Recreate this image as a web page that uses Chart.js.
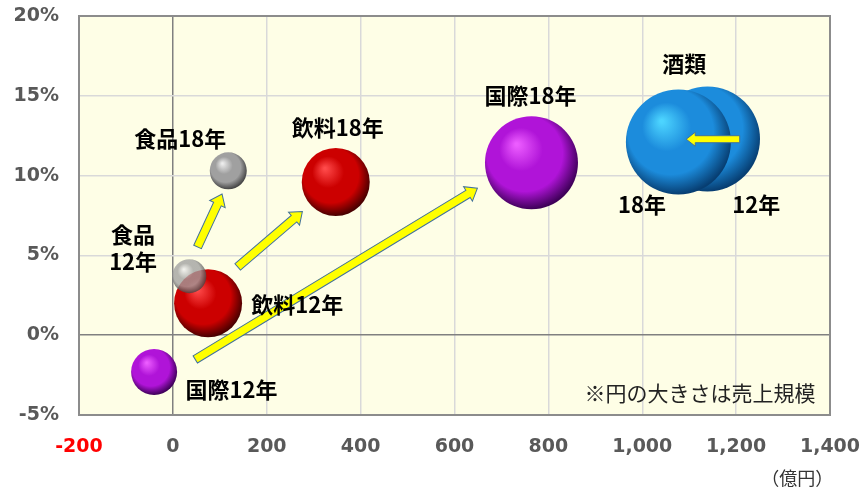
<!DOCTYPE html>
<html><head><meta charset="utf-8">
<script src="https://cdn.jsdelivr.net/npm/chart.js@4.4.1/dist/chart.umd.min.js"></script>
<style>html,body{margin:0;padding:0;background:#fff;}#wrap{width:863px;height:488px;}</style>
</head><body><div id="wrap"><canvas id="c" width="863" height="488"></canvas></div>
<script>
// ---- data ----
const categories = ['飲料12年','飲料18年','食品12年','食品18年','国際12年','国際18年','酒類12年','酒類18年'];
const growthX = [75, 347, 35, 118, -40, 764, 1139, 1077];      // 億円
const growthY = [2.0, 9.6, 3.7, 10.3, -2.3, 10.8, 12.3, 12.1];  // %
const bubbleSize = [34, 34, 17, 18.5, 23, 46.5, 52.5, 52.5];    // 売上規模
const xTicks = [-200, 0, 200, 400, 600, 800, 1000, 1200, 1400];
const yTicks = [-5, 0, 5, 10, 15, 20];
// arrows: [fromX, fromY, toX, toY]
const arrowsFrom = [[52.6, 5.53], [138.2, 4.28], [47.7, -1.52], [1207.7, 12.28]];
const arrowsTo   = [[104.8, 8.84], [275.9, 7.75], [648.8, 9.21], [1093.7, 12.28]];
const labelTexts = ['食品18年','食品','12年','飲料18年','飲料12年','国際12年','国際18年','酒類','18年','12年'];
const labelX = [15.6, -84.7, -84.7, 351.4, 264.8, 124.7, 762, 1089.4, 999.6, 1243];
const labelY = [12.29, 6.29, 4.61, 12.98, 1.92, -3.44, 15.04, 17.04, 8.17, 8.17];

// ---- styles ----
const palette = {
  '飲料': ['#FF4A4A', '#CC0000', '#480000'],
  '食品': ['#EDEDED', '#A0A0A0', '#444444'],
  '国際': ['#EC5CFF', '#B014D8', '#3E0058'],
  '酒類': ['#4CD4FF', '#1C8CDC', '#073E72']
};
const alphaFor = (name) => name === '食品12年' ? 0.78 : 1;

function sphere(ctx) {
  const chart = ctx.chart;
  const i = ctx.dataIndex;
  if (i === undefined || !chart.chartArea) return '#888';
  const name = categories[i];
  const cols = palette[name.slice(0, 2)];
  const cx = chart.scales.x.getPixelForValue(growthX[i]);
  const cy = chart.scales.y.getPixelForValue(growthY[i]);
  const r = bubbleSize[i];
  const g = chart.ctx.createRadialGradient(cx - r * 0.32, cy - r * 0.4, r * 0.03, cx - r * 0.08, cy - r * 0.12, r * 1.12);
  const a = alphaFor(name);
  const hex = (h) => { const n = parseInt(h.slice(1), 16); return `rgba(${n>>16},${(n>>8)&255},${n&255},${a})`; };
  g.addColorStop(0, hex(cols[0]));
  g.addColorStop(0.4, hex(cols[1]));
  g.addColorStop(0.72, hex(cols[1]));
  g.addColorStop(1, hex(cols[2]));
  return g;
}

const plotDeco = {
  id: 'plotDeco',
  beforeDraw(chart) {
    const {ctx, chartArea: a} = chart;
    ctx.save();
    ctx.fillStyle = '#FEFEE6';
    ctx.fillRect(a.left, a.top, a.right - a.left, a.bottom - a.top);
    ctx.restore();
  },
  afterDatasetsDraw(chart) {
    const {ctx, chartArea: a, scales: {x, y}} = chart;
    ctx.save();
    // arrows
    for (let k = 0; k < arrowsFrom.length; k++) {
      const x0 = x.getPixelForValue(arrowsFrom[k][0]), y0 = y.getPixelForValue(arrowsFrom[k][1]);
      const x1 = x.getPixelForValue(arrowsTo[k][0]), y1 = y.getPixelForValue(arrowsTo[k][1]);
      const len = Math.hypot(x1 - x0, y1 - y0);
      const small = k === 3;
      const sw = small ? 3.5 : 4.2, hw = small ? 7 : 8.5, hl = small ? 9 : 11;
      ctx.save();
      ctx.translate(x0, y0);
      ctx.rotate(Math.atan2(y1 - y0, x1 - x0));
      ctx.beginPath();
      ctx.moveTo(0, -sw);
      ctx.lineTo(len - hl, -sw);
      ctx.lineTo(len - hl, -hw);
      ctx.lineTo(len, 0);
      ctx.lineTo(len - hl, hw);
      ctx.lineTo(len - hl, sw);
      ctx.lineTo(0, sw);
      ctx.closePath();
      ctx.fillStyle = '#FFFF00';
      ctx.fill();
      ctx.lineWidth = 1;
      ctx.strokeStyle = '#41719C';
      ctx.stroke();
      ctx.restore();
    }
    // labels
    ctx.fillStyle = '#000';
    ctx.font = 'bold 22px "Noto Sans CJK JP", sans-serif';
    ctx.textAlign = 'center';
    ctx.textBaseline = 'middle';
    for (let k = 0; k < labelTexts.length; k++) {
      ctx.fillText(labelTexts[k], x.getPixelForValue(labelX[k]), y.getPixelForValue(labelY[k]));
    }
    // note
    ctx.font = '21px "Noto Sans CJK JP", sans-serif';
    ctx.fillStyle = '#222';
    ctx.textAlign = 'left';
    ctx.fillText('※円の大きさは売上規模', x.getPixelForValue(877), y.getPixelForValue(-3.6));
    // unit
    ctx.font = '18px "Noto Sans CJK JP", sans-serif';
    ctx.fillStyle = '#333';
    ctx.textAlign = 'center';
    ctx.fillText('（億円）', x.getPixelForValue(1330), a.bottom + 63);
    // border
    ctx.strokeStyle = '#8C8C8C';
    ctx.lineWidth = 2;
    ctx.strokeRect(a.left, a.top, a.right - a.left, a.bottom - a.top);
    ctx.restore();
  }
};

const tickFont = {family: '"DejaVu Sans", Verdana, sans-serif', size: 19, weight: 'bold'};
const noPad = (s) => { s.paddingTop = 0; s.paddingBottom = 0; s.paddingLeft = 0; s.paddingRight = 0; };

new Chart(document.getElementById('c'), {
  type: 'bubble',
  data: {
    labels: categories,
    datasets: [{
      data: categories.map((c, i) => ({x: growthX[i], y: growthY[i], r: bubbleSize[i]})),
      backgroundColor: sphere,
      hoverBackgroundColor: sphere,
      borderWidth: 0,
      hoverBorderWidth: 0,
      clip: false
    }]
  },
  options: {
    responsive: false,
    animation: false,
    events: [],
    layout: {autoPadding: false, padding: {top: 16, right: 33, left: 0, bottom: 0}},
    plugins: {legend: {display: false}, tooltip: {enabled: false}},
    scales: {
      x: {
        type: 'linear', min: -200, max: 1400,
        afterBuildTicks: (s) => { s.ticks = xTicks.map(v => ({value: v})); },
        afterFit: (s) => { s.height = 73; noPad(s); },
        grid: {
          color: (c) => c.tick && c.tick.value === 0 ? '#808080' : '#D9D9D9',
          lineWidth: 1.5,
          drawTicks: false
        },
        border: {display: false},
        ticks: {
          padding: 21,
          font: tickFont,
          color: (c) => c.tick && c.tick.value === -200 ? '#FF0000' : '#595959',
          callback: (v) => v.toLocaleString('en-US')
        }
      },
      y: {
        type: 'linear', min: -5, max: 20,
        afterBuildTicks: (s) => { s.ticks = yTicks.map(v => ({value: v})); },
        afterFit: (s) => { s.width = 79; noPad(s); },
        grid: {
          color: (c) => c.tick && c.tick.value === 0 ? '#808080' : '#D9D9D9',
          lineWidth: 1.5,
          drawTicks: false
        },
        border: {display: false},
        ticks: {
          padding: 20,
          font: tickFont,
          color: '#595959',
          callback: (v) => v + '%'
        }
      }
    }
  },
  plugins: [plotDeco]
});
</script></body></html>
